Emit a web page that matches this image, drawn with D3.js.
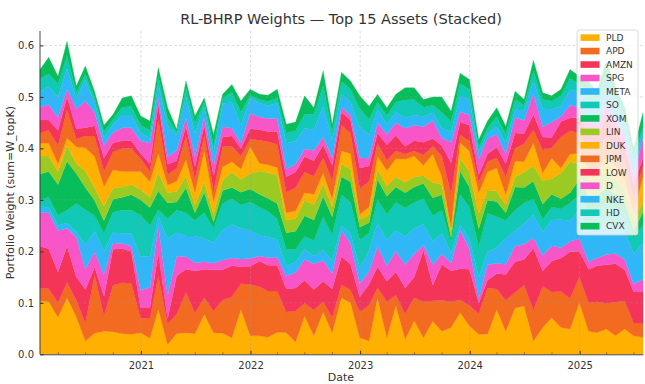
<!DOCTYPE html>
<html><head><meta charset="utf-8">
<script src="https://cdn.jsdelivr.net/npm/d3@7"></script>
<style>
body{margin:0;background:#fff}
svg{display:block;font-family:"DejaVu Sans",sans-serif}
</style>
</head><body>
<svg id="c" width="645" height="384"></svg>
<script>
const months = [
"2020-01","2020-02","2020-03","2020-04","2020-05","2020-06","2020-07","2020-08","2020-09","2020-10","2020-11","2020-12",
"2021-01","2021-02","2021-03","2021-04","2021-05","2021-06","2021-07","2021-08","2021-09","2021-10","2021-11","2021-12",
"2022-01","2022-02","2022-03","2022-04","2022-05","2022-06","2022-07","2022-08","2022-09","2022-10","2022-11","2022-12",
"2023-01","2023-02","2023-03","2023-04","2023-05","2023-06","2023-07","2023-08","2023-09","2023-10","2023-11","2023-12",
"2024-01","2024-02","2024-03","2024-04","2024-05","2024-06","2024-07","2024-08","2024-09","2024-10","2024-11","2024-12",
"2025-01","2025-02","2025-03","2025-04","2025-05","2025-06","2025-07"];

const assets = ["PLD","APD","AMZN","SPG","META","SO","XOM","LIN","DUK","JPM","LOW","D","NKE","HD","CVX"];

const PLD = [0.104,0.102,0.072,0.110,0.073,0.026,0.041,0.045,0.044,0.040,
0.039,0.042,0.031,0.087,0.019,0.040,0.042,0.040,0.078,0.042,
0.041,0.032,0.087,0.036,0.036,0.033,0.043,0.042,0.024,0.074,
0.036,0.082,0.042,0.110,0.100,0.032,0.026,0.110,0.032,0.095,
0.029,0.065,0.032,0.064,0.045,0.052,0.081,0.055,0.039,0.039,
0.087,0.045,0.090,0.094,0.026,0.052,0.071,0.052,0.049,0.100,
0.045,0.042,0.049,0.036,0.049,0.036,0.033];
const APD = [0.024,0.026,0.028,0.030,0.032,0.035,0.113,0.030,0.090,0.099,
0.099,0.028,0.039,0.065,0.040,0.038,0.078,0.040,0.032,0.042,
0.064,0.080,0.050,0.100,0.095,0.090,0.080,0.040,0.060,0.025,
0.050,0.020,0.030,0.025,0.025,0.050,0.070,0.020,0.070,0.020,
0.050,0.045,0.070,0.040,0.060,0.050,0.025,0.040,0.040,0.090,
0.040,0.060,0.030,0.040,0.060,0.080,0.050,0.070,0.060,0.050,
0.055,0.060,0.050,0.065,0.055,0.025,0.028];
const AMZN = [0.082,0.077,0.060,0.070,0.045,0.065,0.015,0.038,0.070,0.066,
0.062,0.020,0.020,0.045,0.010,0.074,0.045,0.082,0.055,0.080,
0.059,0.060,0.033,0.035,0.050,0.050,0.050,0.045,0.045,0.045,
0.040,0.040,0.055,0.055,0.050,0.030,0.040,0.040,0.040,0.045,
0.050,0.040,0.100,0.030,0.070,0.060,0.060,0.070,0.020,0.015,
0.030,0.050,0.060,0.050,0.120,0.030,0.060,0.065,0.090,0.050,
0.065,0.070,0.075,0.075,0.060,0.060,0.060];
const SPG = [0.065,0.070,0.080,0.035,0.078,0.039,0.030,0.042,0.012,0.010,
0.010,0.035,0.040,0.052,0.045,0.038,0.025,0.016,0.015,0.013,
0.019,0.015,0.015,0.015,0.010,0.015,0.015,0.025,0.030,0.040,
0.050,0.040,0.030,0.050,0.040,0.025,0.025,0.040,0.030,0.040,
0.045,0.045,0.010,0.040,0.020,0.015,0.075,0.040,0.010,0.030,
0.020,0.020,0.030,0.030,0.020,0.030,0.030,0.020,0.020,0.025,
0.015,0.015,0.020,0.020,0.020,0.015,0.025];
const META = [0.012,0.010,0.010,0.010,0.010,0.048,0.040,0.045,0.020,0.020,
0.025,0.065,0.060,0.019,0.110,0.046,0.040,0.052,0.045,0.040,
0.058,0.065,0.060,0.055,0.040,0.040,0.035,0.020,0.020,0.020,
0.015,0.020,0.025,0.010,0.020,0.030,0.040,0.045,0.050,0.040,
0.055,0.050,0.040,0.045,0.040,0.020,0.010,0.020,0.040,0.025,
0.030,0.050,0.030,0.040,0.045,0.045,0.050,0.055,0.040,0.055,
0.060,0.055,0.060,0.050,0.055,0.060,0.070];
const SO = [0.013,0.020,0.020,0.025,0.055,0.068,0.030,0.035,0.040,0.045,
0.045,0.080,0.060,0.013,0.040,0.044,0.045,0.030,0.050,0.028,
0.052,0.050,0.045,0.055,0.055,0.050,0.040,0.032,0.025,0.025,
0.030,0.065,0.050,0.060,0.060,0.055,0.035,0.045,0.050,0.055,
0.055,0.050,0.050,0.050,0.045,0.020,0.060,0.060,0.060,0.075,
0.060,0.035,0.040,0.040,0.030,0.025,0.025,0.020,0.035,0.030,
0.040,0.040,0.040,0.040,0.035,0.030,0.035];
const XOM = [0.050,0.050,0.060,0.095,0.058,0.043,0.030,0.025,0.025,0.025,
0.030,0.030,0.035,0.036,0.030,0.016,0.048,0.015,0.040,0.012,
0.025,0.022,0.025,0.025,0.025,0.025,0.030,0.032,0.035,0.040,
0.040,0.040,0.035,0.035,0.040,0.025,0.020,0.040,0.035,0.030,
0.030,0.030,0.030,0.035,0.030,0.010,0.045,0.040,0.035,0.025,
0.030,0.015,0.045,0.030,0.035,0.030,0.025,0.020,0.020,0.030,
0.025,0.025,0.030,0.025,0.020,0.015,0.025];
const LIN = [0.035,0.030,0.025,0.030,0.020,0.032,0.025,0.028,0.022,0.020,
0.020,0.020,0.020,0.036,0.020,0.020,0.023,0.015,0.020,0.015,
0.020,0.030,0.025,0.030,0.045,0.050,0.055,0.025,0.025,0.030,
0.030,0.025,0.020,0.025,0.025,0.015,0.015,0.020,0.020,0.020,
0.020,0.020,0.015,0.030,0.020,0.010,0.025,0.030,0.030,0.020,
0.020,0.015,0.020,0.030,0.030,0.045,0.030,0.050,0.060,0.030,
0.035,0.030,0.035,0.030,0.025,0.020,0.020];
const DUK = [0.025,0.025,0.015,0.015,0.032,0.045,0.060,0.038,0.035,0.030,
0.025,0.035,0.030,0.037,0.015,0.020,0.032,0.025,0.060,0.025,
0.026,0.020,0.020,0.052,0.015,0.015,0.015,0.014,0.015,0.015,
0.020,0.020,0.015,0.025,0.030,0.010,0.015,0.025,0.030,0.035,
0.045,0.040,0.020,0.055,0.015,0.010,0.030,0.040,0.040,0.035,
0.045,0.020,0.030,0.020,0.045,0.015,0.040,0.010,0.015,0.020,
0.020,0.020,0.025,0.025,0.020,0.015,0.050];
const JPM = [0.020,0.025,0.036,0.055,0.015,0.023,0.040,0.030,0.035,0.045,
0.045,0.025,0.020,0.065,0.020,0.025,0.046,0.025,0.030,0.020,
0.039,0.030,0.025,0.015,0.045,0.045,0.045,0.040,0.045,0.040,
0.035,0.030,0.035,0.050,0.040,0.050,0.050,0.025,0.020,0.015,
0.010,0.010,0.020,0.015,0.040,0.065,0.015,0.020,0.020,0.020,
0.020,0.035,0.025,0.035,0.025,0.045,0.020,0.060,0.045,0.040,
0.040,0.040,0.040,0.040,0.040,0.030,0.020];
const LOW = [0.025,0.020,0.029,0.025,0.020,0.016,0.020,0.025,0.018,0.015,
0.015,0.010,0.015,0.030,0.020,0.015,0.019,0.025,0.020,0.030,
0.019,0.020,0.015,0.020,0.020,0.020,0.025,0.030,0.030,0.030,
0.030,0.025,0.030,0.025,0.025,0.040,0.030,0.020,0.030,0.030,
0.015,0.020,0.025,0.015,0.020,0.060,0.025,0.030,0.015,0.015,
0.020,0.025,0.030,0.020,0.030,0.025,0.020,0.030,0.025,0.030,
0.030,0.030,0.035,0.030,0.025,0.025,0.015];
const D = [0.025,0.030,0.025,0.015,0.039,0.052,0.025,0.025,0.020,0.025,
0.025,0.025,0.040,0.015,0.015,0.020,0.017,0.020,0.015,0.020,
0.020,0.015,0.010,0.030,0.025,0.025,0.025,0.015,0.015,0.015,
0.020,0.015,0.015,0.010,0.010,0.020,0.015,0.020,0.020,0.025,
0.035,0.030,0.030,0.035,0.015,0.040,0.020,0.020,0.030,0.030,
0.025,0.020,0.030,0.025,0.040,0.020,0.030,0.010,0.025,0.020,
0.025,0.020,0.025,0.020,0.020,0.015,0.040];
const NKE = [0.030,0.035,0.040,0.040,0.020,0.042,0.020,0.015,0.015,0.025,
0.025,0.015,0.010,0.025,0.060,0.030,0.040,0.045,0.020,0.025,
0.045,0.050,0.035,0.030,0.027,0.025,0.030,0.050,0.045,0.040,
0.040,0.060,0.035,0.025,0.025,0.060,0.045,0.025,0.020,0.020,
0.020,0.020,0.020,0.015,0.020,0.020,0.030,0.030,0.015,0.010,
0.015,0.020,0.015,0.020,0.025,0.035,0.025,0.020,0.030,0.030,
0.030,0.030,0.035,0.030,0.025,0.025,0.010];
const HD = [0.025,0.025,0.025,0.025,0.013,0.010,0.010,0.012,0.010,0.015,
0.017,0.015,0.015,0.015,0.015,0.006,0.018,0.020,0.010,0.015,
0.010,0.020,0.025,0.005,0.007,0.008,0.010,0.020,0.020,0.028,
0.030,0.040,0.015,0.025,0.025,0.035,0.030,0.015,0.017,0.020,
0.035,0.030,0.018,0.015,0.030,0.020,0.025,0.020,0.008,0.010,
0.020,0.018,0.020,0.010,0.020,0.018,0.016,0.020,0.022,0.015,
0.025,0.018,0.030,0.020,0.015,0.015,0.010];
const CVX = [0.018,0.032,0.015,0.028,0.011,0.016,0.011,0.012,0.010,0.018,
0.020,0.018,0.018,0.017,0.020,0.005,0.013,0.013,0.008,0.020,
0.008,0.015,0.022,0.012,0.010,0.012,0.017,0.017,0.017,0.035,
0.013,0.029,0.015,0.018,0.016,0.025,0.026,0.015,0.015,0.015,
0.024,0.023,0.015,0.016,0.030,0.020,0.020,0.019,0.015,0.014,
0.017,0.015,0.016,0.011,0.020,0.013,0.010,0.013,0.017,0.015,
0.020,0.015,0.020,0.014,0.016,0.014,0.028];

const palette = ["#FFB000","#F26B21","#F5345A","#F755C8","#2FB7F7","#11C9B6","#08BE5A","#9BCB23"];
const yTickValues = [0.0,0.1,0.2,0.3,0.4,0.5,0.6];
const xTickYears = ["2021","2022","2023","2024","2025"];

const seriesByName = {PLD,APD,AMZN,SPG,META,SO,XOM,LIN,DUK,JPM,LOW,D,NKE,HD,CVX};
const parseMonth = d3.utcParse("%Y-%m");
const dates = months.map(m => d3.utcDay.offset(d3.utcMonth.offset(parseMonth(m),1),-1));
const rows = dates.map((d,i) => { const r = {date:d}; assets.forEach(a => r[a] = seriesByName[a][i]); return r; });
const stacked = d3.stack().keys(assets)(rows);

const L = 40, R = 643, T = 31, B = 354.3;
const x = d3.scaleUtc().domain([dates[0], dates[dates.length-1]]).range([L, R]);
const y = d3.scaleLinear().domain([0, 0.628]).range([B, T]);
const color = (i) => palette[i % palette.length];

const svg = d3.select("#c");

const area = d3.area().x(d => x(d.data.date)).y0(d => y(d[0])).y1(d => y(d[1]));
svg.append("g").selectAll("path").data(stacked).join("path")
  .attr("d", area).attr("fill", (d,i) => color(i)).attr("stroke", (d,i) => color(i)).attr("stroke-width", 0.3);

// grid
const grid = svg.append("g").attr("stroke", "#9a9a9a").attr("stroke-opacity", 0.45)
  .attr("stroke-width", 0.8).attr("stroke-dasharray", "2.6,2.2").attr("fill","none");
yTickValues.filter(v => v > 0).forEach(v => grid.append("line").attr("x1", L).attr("x2", R).attr("y1", y(v)).attr("y2", y(v)));
xTickYears.forEach(yr => { const xx = x(d3.utcParse("%Y")(yr)); grid.append("line").attr("x1", xx).attr("x2", xx).attr("y1", T).attr("y2", B); });

// axes
const xAxis = d3.axisBottom(x).tickValues(xTickYears.map(s => d3.utcParse("%Y")(s))).tickFormat(d3.utcFormat("%Y")).tickSizeInner(-3.5).tickSizeOuter(0).tickPadding(8);
const gx = svg.append("g").attr("transform", `translate(0,${B})`).call(xAxis);
gx.select(".domain").attr("stroke", "#333").attr("stroke-width", 0.9);
gx.selectAll(".tick line").attr("stroke", "#333");
gx.selectAll("text").attr("font-size", 10).attr("fill", "#333").attr("font-family", "DejaVu Sans");
const minor = d3.utcMonth.every(3).range(dates[0], dates[dates.length-1]).filter(d => d.getUTCMonth() !== 0);
svg.append("g").selectAll("line").data(minor).join("line")
  .attr("x1", d => x(d)).attr("x2", d => x(d)).attr("y1", B).attr("y2", B - 2)
  .attr("stroke", "#333").attr("stroke-width", 0.6);

const yAxis = d3.axisLeft(y).tickValues(yTickValues).tickFormat(d3.format(".1f")).tickSizeInner(-3.5).tickSizeOuter(0).tickPadding(6);
const gy = svg.append("g").attr("transform", `translate(${L},0)`).call(yAxis);
gy.select(".domain").attr("stroke", "#333").attr("stroke-width", 0.9).attr("d", `M0,${T}V${B}`);
gy.selectAll(".tick line").attr("stroke", "#333");
gy.selectAll("text").attr("font-size", 10).attr("fill", "#333").attr("font-family", "DejaVu Sans");

// labels
svg.append("text").attr("x", 341).attr("y", 23.5).attr("text-anchor", "middle")
  .attr("font-size", 14.5).attr("fill", "#333").text("RL-BHRP Weights — Top 15 Assets (Stacked)");
svg.append("text").attr("x", 341).attr("y", 380.5).attr("text-anchor", "middle")
  .attr("font-size", 11).attr("fill", "#333").text("Date");
svg.append("text").attr("transform", `translate(14,${(T+B)/2}) rotate(-90)`).attr("text-anchor", "middle")
  .attr("font-size", 11).attr("fill", "#333").text("Portfolio Weight (sum=W_topK)");

// legend
const lg = svg.append("g");
lg.append("rect").attr("x", 577).attr("y", 30).attr("width", 61).attr("height", 205).attr("rx", 2.5)
  .attr("fill", "#fff").attr("fill-opacity", 0.8).attr("stroke", "#d0d0d0").attr("stroke-width", 0.8);
assets.forEach((a, i) => {
  const cy = 37.6 + i * 13.47;
  lg.append("rect").attr("x", 580.5).attr("y", cy - 3.3).attr("width", 19).attr("height", 6.6).attr("fill", color(i));
  lg.append("text").attr("x", 606).attr("y", cy + 3.3).attr("font-size", 9).attr("fill", "#333").text(a);
});
</script>
</body></html>
